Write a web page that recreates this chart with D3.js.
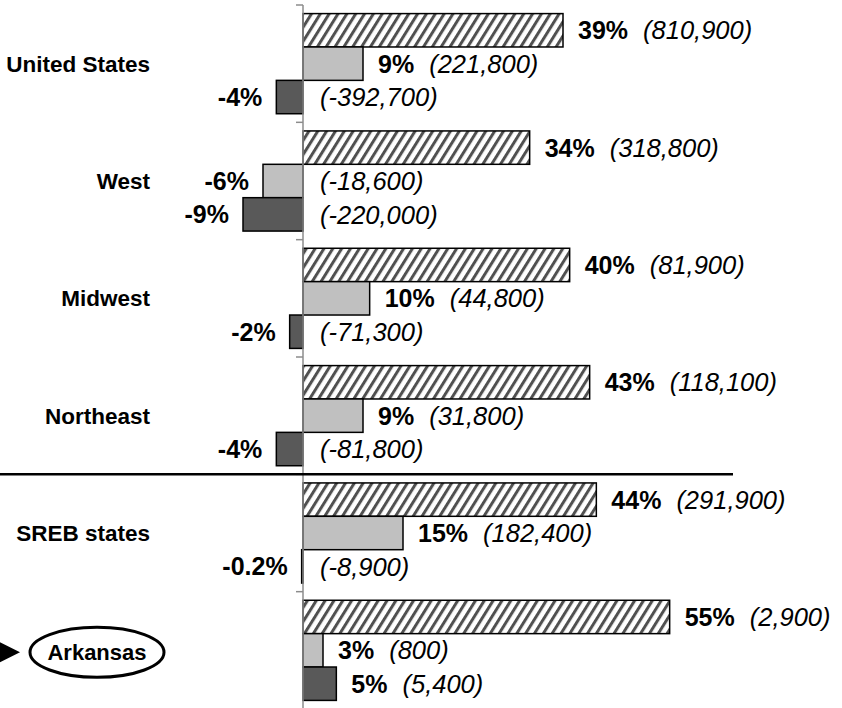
<!DOCTYPE html>
<html>
<head>
<meta charset="utf-8">
<script src="https://cdn.jsdelivr.net/npm/d3@7"></script>
<style>
  body { margin: 0; background: #fff; }
  svg { display: block; font-family: "Liberation Sans", Arial, sans-serif; }
</style>
</head>
<body>
<script>
var w = 842;
var h = 708;

// regions, top to bottom
var regions = ["United States", "West", "Midwest", "Northeast", "SREB states", "Arkansas"];
var seriesKeys = ["groupA", "groupB", "groupC"];

// percent change per region, one array per series
var pctA = [39, 34, 40, 43, 44, 55];
var pctB = [9, -6, 10, 9, 15, 3];
var pctC = [-4, -9, -2, -4, -0.2, 5];

// numeric change per region
var countA = [810900, 318800, 81900, 118100, 291900, 2900];
var countB = [221800, -18600, 44800, 31800, 182400, 800];
var countC = [-392700, -220000, -71300, -81800, -8900, 5400];

var highlight = "Arkansas";
var dividerAfter = "Northeast";

var pcts = { groupA: pctA, groupB: pctB, groupC: pctC };
var counts = { groupA: countA, groupB: countB, groupC: countC };

var rows = [];
regions.forEach(function (r, i) {
  seriesKeys.forEach(function (k) {
    rows.push({ region: r, key: k, pct: pcts[k][i], count: counts[k][i] });
  });
});

var svg = d3.select("body")
  .append("svg")
  .attr("width", w)
  .attr("height", h);

// hatch fill for the first series
var defs = svg.append("defs");
defs.append("pattern")
  .attr("id", "hatch")
  .attr("patternUnits", "userSpaceOnUse")
  .attr("width", 7.5)
  .attr("height", 7.5)
  .attr("patternTransform", "rotate(32)")
  .call(function (p) {
    p.append("rect").attr("width", 7.5).attr("height", 7.5).attr("fill", "#fff");
    p.append("rect").attr("x", 0).attr("width", 3).attr("height", 7.5).attr("fill", "#505050");
  });

var fills = { groupA: "url(#hatch)", groupB: "#c0c0c0", groupC: "#595959" };

var x = d3.scaleLinear()
  .domain([-15, 60])
  .range([203, 703]);

var y0 = d3.scaleBand()
  .domain(regions)
  .range([5, 709]);

var y1 = d3.scaleBand()
  .domain(seriesKeys)
  .range([8.6, y0.bandwidth() - 8.6]);

// bars
svg.selectAll("rect.bar")
  .data(rows)
  .enter()
  .append("rect")
  .attr("class", "bar")
  .attr("x", function (d) { return x(Math.min(0, d.pct)); })
  .attr("y", function (d) { return y0(d.region) + y1(d.key); })
  .attr("width", function (d) { return Math.abs(x(d.pct) - x(0)); })
  .attr("height", y1.bandwidth())
  .attr("fill", function (d) { return fills[d.key]; })
  .attr("stroke", "#000")
  .attr("stroke-width", 1.5);

// vertical axis at zero
var axisG = svg.append("g")
  .attr("stroke", "#8c8c8c")
  .attr("stroke-width", 1.5);
axisG.append("line")
  .attr("x1", x(0)).attr("x2", x(0))
  .attr("y1", y0.range()[0]).attr("y2", h);
axisG.selectAll("line.tick")
  .data(regions.concat(["end"]))
  .enter()
  .append("line")
  .attr("class", "tick")
  .attr("x1", x(0) - 7).attr("x2", x(0))
  .attr("y1", function (d, i) { return y0.range()[0] + i * y0.step(); })
  .attr("y2", function (d, i) { return y0.range()[0] + i * y0.step(); });

// divider between regions and SREB
svg.append("line")
  .attr("x1", 0)
  .attr("x2", 733)
  .attr("y1", y0(dividerAfter) + y0.bandwidth())
  .attr("y2", y0(dividerAfter) + y0.bandwidth())
  .attr("stroke", "#000")
  .attr("stroke-width", 2.5);

// value labels, hyphen minus like the original
var fmt = function (v) { return (v < 0 ? "-" : "") + d3.format(",")(Math.abs(v)); };
var labels = svg.selectAll("g.lbl")
  .data(rows)
  .enter()
  .append("g")
  .attr("class", "lbl");

labels.append("text")
  .attr("x", function (d) { return d.pct >= 0 ? x(d.pct) + 15 : x(d.pct) - 14; })
  .attr("y", function (d) { return y0(d.region) + y1(d.key) + y1.bandwidth() / 2; })
  .attr("dy", "0.36em")
  .attr("text-anchor", function (d) { return d.pct >= 0 ? "start" : "end"; })
  .style("font-size", "25px")
  .style("font-weight", "bold")
  .text(function (d) { return d.pct + "%"; })
  .each(function (d) {
    if (d.pct >= 0) {
      d3.select(this).append("tspan")
        .attr("dx", 15)
        .style("font-size", "25.5px")
        .style("font-weight", "normal")
        .style("font-style", "italic")
        .text("(" + fmt(d.count) + ")");
    }
  });

labels.filter(function (d) { return d.pct < 0; })
  .append("text")
  .attr("x", x(0) + 17)
  .attr("y", function (d) { return y0(d.region) + y1(d.key) + y1.bandwidth() / 2; })
  .attr("dy", "0.36em")
  .style("font-size", "25.5px")
  .style("font-style", "italic")
  .text(function (d) { return "(" + fmt(d.count) + ")"; });

// region names
svg.selectAll("text.cat")
  .data(regions.filter(function (r) { return r !== highlight; }))
  .enter()
  .append("text")
  .attr("class", "cat")
  .attr("x", 150)
  .attr("y", function (d) { return y0(d) + y0.bandwidth() / 2; })
  .attr("dy", "0.36em")
  .attr("text-anchor", "end")
  .style("font-size", "22.5px")
  .style("font-weight", "bold")
  .text(function (d) { return d; });

// highlighted state in an ellipse with an arrow
var hy = y0(highlight) + y0.bandwidth() / 2 + 2;
svg.append("ellipse")
  .attr("cx", 97)
  .attr("cy", hy)
  .attr("rx", 67)
  .attr("ry", 25)
  .attr("fill", "#fff")
  .attr("stroke", "#000")
  .attr("stroke-width", 3);
svg.append("text")
  .attr("x", 97)
  .attr("y", hy)
  .attr("dy", "0.36em")
  .attr("text-anchor", "middle")
  .style("font-size", "22px")
  .style("font-weight", "bold")
  .text(highlight);
svg.append("path")
  .attr("d", "M0," + (hy - 10) + "L20," + hy + "L0," + (hy + 10) + "Z")
  .attr("fill", "#000");
</script>
</body>
</html>
